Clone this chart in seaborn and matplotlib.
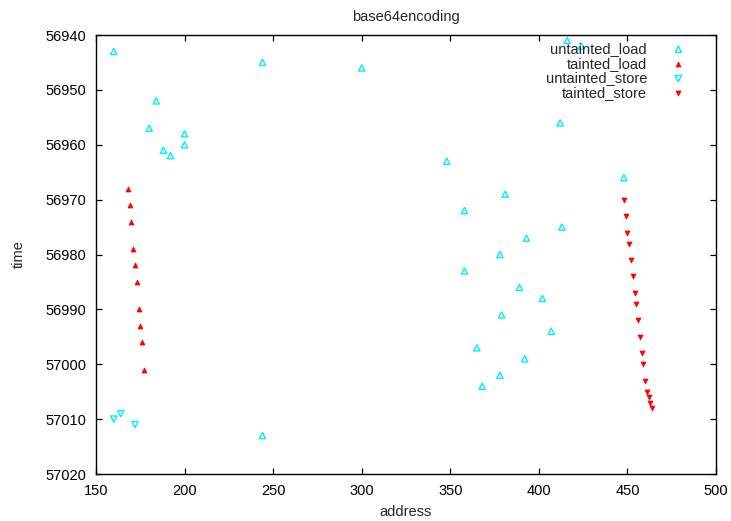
import matplotlib
matplotlib.use("Agg")
from matplotlib import pyplot as plt
import pandas as pd
import seaborn as sns

# values
untainted_load_addr = [160, 244, 300, 184, 180, 200, 200, 188, 192, 244,
                       416, 424, 412, 348, 448, 381, 358, 413, 393, 378,
                       358, 389, 402, 379, 407, 365, 392, 378, 368]
untainted_load_time = [56943, 56945, 56946, 56952, 56957, 56958, 56960, 56961, 56962, 57013,
                       56941, 56942, 56956, 56963, 56966, 56969, 56972, 56975, 56977, 56980,
                       56983, 56986, 56988, 56991, 56994, 56997, 56999, 57002, 57004]

tainted_load_addr = [168, 169, 170, 171, 172, 173, 174, 175, 176, 177]
tainted_load_time = [56968, 56971, 56974, 56979, 56982, 56985, 56990, 56993, 56996, 57001]

untainted_store_addr = [160, 164, 172]
untainted_store_time = [57010, 57009, 57011]

tainted_store_addr = [448, 449, 450, 451, 452, 453, 454, 455, 456, 457,
                      458, 459, 460, 461, 462, 463, 464]
tainted_store_time = [56970, 56973, 56976, 56978, 56981, 56984, 56987, 56989, 56992, 56995,
                      56998, 57000, 57003, 57005, 57006, 57007, 57008]

x_ticks = [150, 200, 250, 300, 350, 400, 450, 500]
y_ticks = [56940, 56950, 56960, 56970, 56980, 56990, 57000, 57010, 57020]

sns.set_style("ticks")
plt.rcParams['font.family'] = ['Liberation Sans', 'DejaVu Sans']
fs = 10.5
cyan = '#00f0f8'
red = '#ff0000'

fig = plt.figure(figsize=(7.31, 5.21), dpi=100)
ax = fig.add_axes([96 / 731, 1 - 474 / 521, 620 / 731, 439 / 521])

# open triangles a bit larger than the filled ones, as in the gnuplot original
sns.scatterplot(x=untainted_load_addr, y=untainted_load_time, marker='^', s=20,
                facecolors='none', edgecolors=cyan, linewidth=1.0,
                label='untainted_load', ax=ax)
sns.scatterplot(x=tainted_load_addr, y=tainted_load_time, marker='^', s=13,
                color=red, edgecolor=red, linewidth=0.5,
                label='tainted_load', ax=ax)
sns.scatterplot(x=untainted_store_addr, y=untainted_store_time, marker='v', s=20,
                facecolors='none', edgecolors=cyan, linewidth=1.0,
                label='untainted_store', ax=ax)
sns.scatterplot(x=tainted_store_addr, y=tainted_store_time, marker='v', s=13,
                color=red, edgecolor=red, linewidth=0.5,
                label='tainted_store', ax=ax)

ax.set_xlim(150, 500)
ax.set_ylim(57020, 56940)
ax.set_xticks(x_ticks)
ax.set_yticks(y_ticks)
ax.tick_params(direction='in', length=4.5, width=0.9, top=True, right=True,
               labelsize=fs, pad=7, color='black', labelcolor='black')
for sp in ax.spines.values():
    sp.set_visible(True)
    sp.set_linewidth(1.0)
    sp.set_color('black')

ax.set_xlabel('address', fontsize=fs, labelpad=5)
ax.set_ylabel('time', fontsize=fs, labelpad=14)
ax.set_title('base64encoding', fontsize=fs, pad=10)

ax.legend(loc='upper right', bbox_to_anchor=(0.951, 0.984), frameon=False,
          markerfirst=False, fontsize=fs, handlelength=1.0, handletextpad=1.65,
          labelspacing=0.05, borderpad=0, borderaxespad=0)

plt.savefig("out.png", dpi=100)
plt.close()
